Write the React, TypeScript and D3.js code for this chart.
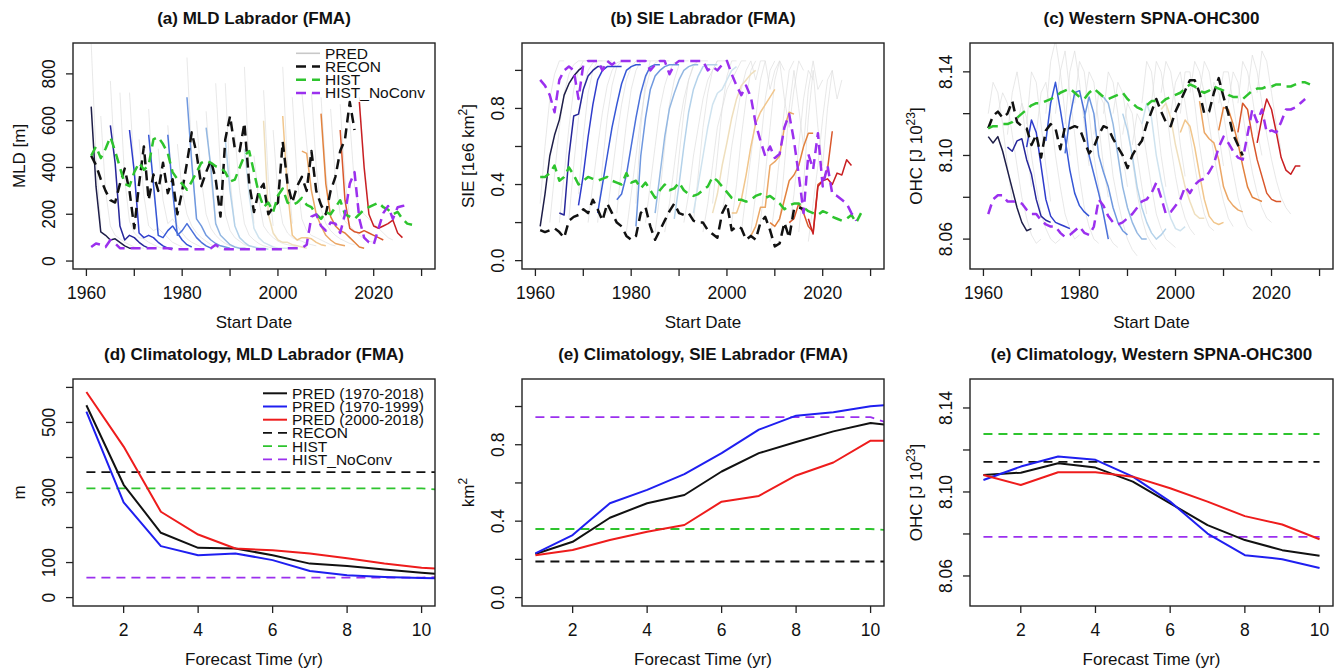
import React, { useRef, useEffect } from 'react';
import * as d3 from 'd3';

const FONT = '"Liberation Sans", Arial, Helvetica, sans-serif';

// ---- forecast start dates ----
const colStarts = [1961, 1965, 1969, 1973, 1977, 1981, 1985, 1989, 1993, 1997, 2001, 2005, 2009, 2013, 2017];
const colColors = ['#1e1e48', '#26269a', '#2f3ccc', '#3556d6', '#4a70da', '#6f98df', '#94b8e2', '#b4d2ea',
  '#cfe3ef', '#efdfbd', '#f1c68c', '#eba766', '#e2823e', '#d9572b', '#c91f22'];
const greyStarts = [1963, 1967, 1971, 1975, 1979, 1983, 1987, 1991, 1995, 1999, 2003, 2007, 2011, 2015];
const obsStart = 1961;

// ---- (a) MLD Labrador ----
const mldCol = [
  [660, 320, 125, 110, 90, 95, 80, 65, 55, 55],
  [580, 420, 150, 90, 110, 100, 80, 65, 55, 55],
  [560, 380, 120, 100, 110, 100, 80, 65, 55, 55],
  [540, 330, 110, 100, 130, 150, 120, 90, 70, 60],
  [540, 300, 110, 130, 160, 130, 100, 80, 65, 55],
  [700, 420, 180, 150, 110, 90, 75, 65, 60, 55],
  [570, 400, 160, 110, 90, 70, 60, 55, 55, 50],
  [520, 300, 150, 100, 80, 65, 60, 55, 55, 50],
  [480, 280, 140, 100, 80, 70, 60, 55, 55, 55],
  [600, 200, 120, 90, 80, 80, 70, 65, 60, 55],
  [620, 300, 110, 90, 100, 100, 95, 80, 70, 65],
  [470, 460, 300, 200, 150, 110, 90, 75, 70, 65],
  [630, 330, 190, 150, 130, 120, 100, 80, 60, 55],
  [560, 260, 140, 125, 120, 130, 120, 110, 100, 90],
  [680, 400, 200, 150, 140, 150, 160, 175, 120, 100],
];
const mldGrey = [
  [620, 300, 150, 110, 95, 80, 70, 60, 55, 55],
  [720, 350, 170, 120, 100, 95, 80, 70, 60, 55],
  [520, 280, 150, 130, 140, 120, 100, 80, 70, 60],
  [480, 260, 160, 180, 150, 120, 95, 80, 70, 60],
  [500, 300, 200, 150, 120, 100, 85, 70, 60, 55],
  [600, 350, 200, 140, 110, 90, 75, 65, 60, 55],
  [760, 400, 200, 130, 100, 85, 70, 65, 60, 55],
  [540, 300, 160, 110, 90, 75, 65, 60, 55, 55],
  [450, 260, 150, 120, 100, 85, 75, 70, 65, 60],
  [560, 280, 160, 120, 100, 90, 85, 75, 70, 65],
  [700, 350, 180, 130, 110, 100, 90, 80, 70, 65],
  [720, 400, 220, 160, 130, 110, 95, 85, 75, 70],
  [650, 350, 200, 170, 150, 130, 110, 95, 85, 80],
  [600, 320, 220, 200, 180, 160, 140, 120, 100, 90],
];
const mldMemb = [
  [930, 450, 150], [770, 400, 150], [720, 380, 140], [650, 300, 130], [580, 300, 150],
  [870, 450, 180], [640, 350, 160], [760, 350, 150], [830, 380, 160], [730, 350, 150],
  [830, 400, 160], [720, 500, 300], [700, 380, 200], [670, 350, 180], [700, 420, 220],
];
const mldRecon = [
  450, 410, 350, 300, 260, 250, 330, 395, 300, 140,
  330, 490, 260, 370, 300, 420, 290, 350, 200, 300,
  420, 550, 460, 320, 380, 430, 350, 190, 520, 620,
  480, 470, 590, 330, 210, 300, 330, 200, 230, 250,
  510, 330, 250, 320, 360, 300, 470, 300, 240, 200,
  300, 360, 470, 520, 680, 560,
];
const mldHist = [
  450, 490, 440, 480, 530, 470, 400, 330, 320, 380,
  420, 390, 410, 520, 530, 500, 460, 380, 350, 330,
  305, 340, 380, 420, 430, 420, 405, 400, 380, 340,
  348, 400, 450, 470, 380, 290, 230, 250, 210, 280,
  310, 250, 240, 250, 270, 240, 230, 200, 180, 210,
  200, 230, 260, 200, 190, 180, 200, 220, 230, 240,
  250, 230, 220, 200, 210, 180, 160, 155,
];
const mldNoConv = [
  60, 75, 70, 60, 90, 75, 55, 55, 55, 55,
  55, 55, 55, 55, 55, 55, 55, 50, 50, 50,
  50, 50, 50, 50, 50, 55, 70, 55, 50, 50,
  50, 50, 50, 50, 50, 50, 50, 50, 50, 50,
  50, 55, 55, 55, 55, 70, 190, 200, 150, 130,
  165, 160, 120, 200, 330, 380, 180, 100, 80, 70,
  140, 205, 235, 180, 230, 235, 240,
];

// ---- (b) SIE Labrador ----
const sieCol = [
  [0.18, 0.35, 0.55, 0.66, 0.74, 0.87, 0.93, 0.97, 1.0, 1.02],
  [0.25, 0.24, 0.55, 0.76, 0.77, 0.9, 0.97, 1.0, 1.02, 1.02],
  [0.29, 0.45, 0.65, 0.82, 0.95, 1.0, 1.02, 1.02, 1.02, 1.02],
  [0.25, 0.4, 0.55, 0.7, 0.82, 0.93, 1.0, 1.02, 1.03, 1.03],
  [0.32, 0.35, 0.45, 0.6, 0.75, 0.88, 0.97, 1.02, 1.03, 1.03],
  [0.18, 0.55, 0.75, 0.9, 0.97, 1.0, 1.02, 1.03, 1.03, 1.03],
  [0.25, 0.45, 0.65, 0.8, 0.88, 0.95, 1.0, 1.02, 1.03, 1.03],
  [0.22, 0.4, 0.6, 0.78, 0.9, 0.97, 1.02, 1.03, 1.03, 1.03],
  [0.25, 0.4, 0.55, 0.7, 0.82, 0.88, 0.9, 0.95, 1.0, 1.02],
  [0.25, 0.35, 0.5, 0.62, 0.75, 0.85, 0.92, 0.95, 0.98, 1.0],
  [0.25, 0.25, 0.32, 0.45, 0.6, 0.72, 0.78, 0.82, 0.86, 0.9],
  [0.13, 0.18, 0.28, 0.28, 0.5, 0.52, 0.55, 0.7, 0.78, 0.77],
  [0.2, 0.18, 0.22, 0.32, 0.42, 0.45, 0.5, 0.6, 0.67, 0.67],
  [0.2, 0.22, 0.3, 0.25, 0.18, 0.15, 0.4, 0.42, 0.48, 0.68],
  [0.22, 0.14, 0.39, 0.42, 0.43, 0.4, 0.46, 0.45, 0.53, 0.5],
];
const sieGrey = [
  [0.2, 0.45, 0.7, 0.88, 0.98, 1.03, 1.05, 1.05, 1.05, 1.05],
  [0.22, 0.5, 0.75, 0.9, 1.0, 1.04, 1.05, 1.05, 1.05, 1.05],
  [0.2, 0.4, 0.6, 0.78, 0.92, 1.0, 1.04, 1.05, 1.05, 1.05],
  [0.25, 0.45, 0.65, 0.82, 0.95, 1.02, 1.05, 1.05, 1.05, 1.05],
  [0.15, 0.35, 0.55, 0.75, 0.9, 1.0, 1.04, 1.05, 1.05, 1.05],
  [0.2, 0.4, 0.6, 0.8, 0.92, 1.0, 1.04, 1.05, 1.05, 1.05],
  [0.15, 0.3, 0.5, 0.7, 0.85, 0.95, 1.02, 1.05, 1.05, 1.05],
  [0.2, 0.35, 0.55, 0.7, 0.85, 0.95, 1.0, 1.05, 1.05, 1.05],
  [0.15, 0.3, 0.5, 0.7, 0.8, 0.9, 0.95, 1.0, 1.05, 1.05],
  [0.25, 0.4, 0.6, 0.75, 0.9, 1.0, 1.05, 0.95, 1.05, 1.05],
  [0.15, 0.35, 0.55, 0.75, 0.95, 1.05, 0.9, 1.0, 1.05, 1.0],
  [0.2, 0.45, 0.7, 0.95, 1.05, 0.85, 0.7, 0.9, 1.05, 1.0],
  [0.2, 0.5, 0.8, 1.0, 0.8, 0.6, 0.9, 1.05, 0.9, 0.95],
  [0.15, 0.4, 0.75, 1.0, 0.7, 0.5, 0.8, 1.0, 0.85, 0.95],
];
const sieMemb = [
  [0.3, 0.6, 0.85, 0.98, 1.05, 1.05], [0.2, 0.45, 0.7, 0.9, 1.0, 1.05], [0.35, 0.65, 0.88, 1.0, 1.05, 1.05],
  [0.2, 0.5, 0.75, 0.92, 1.02, 1.05], [0.25, 0.5, 0.72, 0.9, 1.0, 1.05], [0.3, 0.7, 0.95, 1.05, 1.05, 1.05],
  [0.15, 0.35, 0.6, 0.82, 0.95, 1.03], [0.3, 0.55, 0.78, 0.95, 1.03, 1.05], [0.2, 0.45, 0.7, 0.88, 1.0, 1.05],
  [0.3, 0.55, 0.8, 0.97, 1.05, 1.05], [0.2, 0.4, 0.65, 0.85, 1.0, 1.05], [0.15, 0.35, 0.6, 0.85, 1.0, 1.05],
  [0.1, 0.3, 0.55, 0.8, 1.0, 1.05], [0.15, 0.35, 0.6, 0.85, 1.0, 0.95], [0.1, 0.3, 0.5, 0.75, 0.95, 1.0],
];
const sieRecon = [
  0.16, 0.15, 0.16, 0.17, 0.15, 0.12, 0.21, 0.23, 0.24, 0.27,
  0.25, 0.32, 0.27, 0.21, 0.3, 0.25, 0.2, 0.18, 0.13, 0.11,
  0.13, 0.25, 0.28, 0.18, 0.11, 0.16, 0.21, 0.26, 0.3, 0.25,
  0.24, 0.25, 0.21, 0.2, 0.2, 0.16, 0.14, 0.12, 0.25, 0.3,
  0.16, 0.18, 0.17, 0.11, 0.13, 0.11, 0.2, 0.23, 0.16, 0.075,
  0.09, 0.2, 0.12, 0.27, 0.28, 0.27,
];
const sieHist = [
  0.44, 0.44, 0.46, 0.5, 0.42, 0.44, 0.49, 0.45, 0.4, 0.42,
  0.44, 0.43, 0.42, 0.43, 0.44, 0.42, 0.41, 0.4, 0.46, 0.41,
  0.42, 0.38, 0.41, 0.37, 0.33, 0.37, 0.4, 0.37, 0.38, 0.41,
  0.37, 0.35, 0.34, 0.35, 0.37, 0.39, 0.44, 0.42, 0.39, 0.36,
  0.33, 0.32, 0.32, 0.31, 0.32, 0.34, 0.35, 0.33, 0.34, 0.32,
  0.3, 0.27, 0.29, 0.3, 0.3, 0.28, 0.26, 0.25, 0.24, 0.26,
  0.25, 0.23, 0.22, 0.21, 0.22, 0.24, 0.2, 0.25,
];
const sieNoConv = [
  0.95, 0.92, 0.87, 0.78, 0.95, 1.0, 1.02, 1.0, 0.85, 1.03,
  1.05, 1.05, 1.05, 1.0, 1.05, 1.03, 1.05, 1.05, 1.05, 1.05,
  1.05, 1.05, 1.05, 1.0, 1.03, 1.05, 1.05, 0.98, 1.03, 1.05,
  1.05, 1.05, 1.05, 1.05, 1.05, 1.0, 1.02, 1.0, 1.03, 1.05,
  0.98, 0.92, 0.87, 0.92, 0.86, 0.72, 0.63, 0.55, 0.6, 0.54,
  0.56, 0.7, 0.77, 0.63, 0.45, 0.25, 0.56, 0.48, 0.67, 0.39,
  0.5, 0.35, 0.34, 0.32, 0.3, 0.25, 0.21,
];

// ---- (c) Western SPNA OHC300 ----
const ohcCol = [
  [8.109, 8.106, 8.109, 8.102, 8.093, 8.084, 8.075, 8.068, 8.064, 8.065],
  [8.104, 8.102, 8.107, 8.108, 8.098, 8.091, 8.079, 8.071, 8.069, 8.068],
  [8.104, 8.117, 8.111, 8.095, 8.079, 8.071, 8.068, 8.067, 8.066, 8.065],
  [8.107, 8.125, 8.135, 8.122, 8.108, 8.093, 8.082, 8.076, 8.073, 8.071],
  [8.101, 8.118, 8.13, 8.131, 8.121, 8.1, 8.091, 8.082, 8.072, 8.06],
  [8.118, 8.128, 8.12, 8.1, 8.092, 8.085, 8.075, 8.068, 8.064, 8.062],
  [8.128, 8.125, 8.115, 8.1, 8.085, 8.075, 8.068, 8.063, 8.06, 8.06],
  [8.12, 8.112, 8.1, 8.085, 8.075, 8.068, 8.063, 8.06, 8.062, 8.065],
  [8.115, 8.125, 8.118, 8.1, 8.088, 8.078, 8.07, 8.065, 8.064, 8.066],
  [8.122, 8.125, 8.118, 8.105, 8.095, 8.085, 8.078, 8.072, 8.07, 8.07],
  [8.111, 8.117, 8.114, 8.104, 8.091, 8.079, 8.071, 8.068, 8.067, 8.068],
  [8.126, 8.111, 8.108, 8.106, 8.098, 8.085, 8.079, 8.076, 8.074, 8.073],
  [8.112, 8.123, 8.122, 8.115, 8.106, 8.095, 8.085, 8.08, 8.079, 8.078],
  [8.111, 8.125, 8.122, 8.109, 8.098, 8.09, 8.082, 8.079, 8.078, 8.078],
  [8.106, 8.118, 8.127, 8.122, 8.111, 8.099, 8.093, 8.091, 8.095, 8.095],
];
const ohcGrey = [
  [8.12, 8.13, 8.125, 8.11, 8.095, 8.08, 8.07, 8.062, 8.058, 8.06],
  [8.115, 8.125, 8.118, 8.1, 8.085, 8.072, 8.065, 8.06, 8.058, 8.06],
  [8.11, 8.13, 8.135, 8.12, 8.1, 8.085, 8.072, 8.065, 8.06, 8.062],
  [8.12, 8.14, 8.15, 8.13, 8.11, 8.09, 8.075, 8.066, 8.06, 8.058],
  [8.125, 8.145, 8.14, 8.12, 8.1, 8.085, 8.072, 8.062, 8.058, 8.056],
  [8.11, 8.13, 8.125, 8.11, 8.09, 8.078, 8.068, 8.06, 8.055, 8.052],
  [8.12, 8.135, 8.13, 8.115, 8.098, 8.082, 8.07, 8.062, 8.058, 8.055],
  [8.105, 8.12, 8.115, 8.1, 8.085, 8.072, 8.065, 8.06, 8.058, 8.056],
  [8.125, 8.145, 8.14, 8.125, 8.105, 8.09, 8.078, 8.07, 8.065, 8.062],
  [8.12, 8.135, 8.14, 8.125, 8.11, 8.095, 8.082, 8.072, 8.066, 8.064],
  [8.13, 8.145, 8.14, 8.13, 8.115, 8.1, 8.088, 8.078, 8.07, 8.066],
  [8.12, 8.135, 8.13, 8.12, 8.105, 8.092, 8.08, 8.072, 8.066, 8.064],
  [8.125, 8.14, 8.135, 8.12, 8.105, 8.092, 8.082, 8.075, 8.07, 8.068],
  [8.13, 8.148, 8.14, 8.125, 8.11, 8.098, 8.088, 8.08, 8.075, 8.072],
];
const ohcMemb = [
  [8.12, 8.135, 8.13, 8.115, 8.095, 8.078], [8.11, 8.13, 8.14, 8.125, 8.105, 8.085],
  [8.115, 8.14, 8.135, 8.115, 8.095, 8.078], [8.12, 8.145, 8.155, 8.14, 8.12, 8.1],
  [8.115, 8.14, 8.15, 8.135, 8.115, 8.095], [8.125, 8.14, 8.135, 8.115, 8.095, 8.08],
  [8.12, 8.14, 8.135, 8.12, 8.1, 8.085], [8.11, 8.125, 8.12, 8.1, 8.085, 8.072],
  [8.125, 8.145, 8.14, 8.12, 8.1, 8.085], [8.13, 8.145, 8.14, 8.125, 8.105, 8.09],
  [8.12, 8.14, 8.14, 8.125, 8.105, 8.09], [8.13, 8.145, 8.14, 8.125, 8.11, 8.095],
  [8.125, 8.14, 8.14, 8.125, 8.11, 8.098], [8.125, 8.145, 8.14, 8.128, 8.112, 8.1],
  [8.13, 8.15, 8.145, 8.13, 8.115, 8.102],
];
const ohcRecon = [
  8.113, 8.119, 8.121, 8.118, 8.12, 8.126, 8.116, 8.114, 8.113, 8.105,
  8.11, 8.099, 8.112, 8.115, 8.113, 8.103, 8.114, 8.113, 8.114, 8.113,
  8.107, 8.101, 8.104, 8.11, 8.114, 8.113, 8.108, 8.104, 8.1, 8.094,
  8.1, 8.104, 8.107, 8.115, 8.121, 8.127, 8.121, 8.116, 8.114, 8.121,
  8.126, 8.131, 8.136, 8.136, 8.13, 8.12, 8.121, 8.13, 8.137, 8.128,
  8.12, 8.11, 8.105, 8.1,
];
const ohcHist = [
  8.113, 8.114, 8.114, 8.115, 8.115, 8.116, 8.118, 8.12, 8.122, 8.124,
  8.125, 8.125, 8.126, 8.127, 8.128, 8.13, 8.131, 8.132, 8.13, 8.128,
  8.127, 8.13, 8.132, 8.13, 8.128, 8.127, 8.128, 8.129, 8.13, 8.127,
  8.125, 8.123, 8.122, 8.124, 8.126, 8.126, 8.125, 8.127, 8.128, 8.129,
  8.13, 8.132, 8.134, 8.133, 8.131, 8.13, 8.131, 8.133, 8.132, 8.131,
  8.129, 8.128, 8.128, 8.127, 8.129, 8.131, 8.132, 8.132, 8.133, 8.133,
  8.134, 8.134, 8.133, 8.133, 8.134, 8.135, 8.135, 8.134,
];
const ohcNoConv = [
  8.072, 8.079, 8.081, 8.081, 8.078, 8.078, 8.078, 8.077, 8.074, 8.072,
  8.072, 8.069, 8.067, 8.066, 8.066, 8.063, 8.061, 8.062, 8.064, 8.066,
  8.063, 8.062, 8.066, 8.079, 8.076, 8.071, 8.068, 8.067, 8.068, 8.07,
  8.072, 8.075, 8.078, 8.079, 8.082, 8.087, 8.08, 8.072, 8.073, 8.076,
  8.079, 8.085, 8.082, 8.086, 8.088, 8.089, 8.092, 8.096, 8.104, 8.109,
  8.106, 8.102, 8.099, 8.098, 8.11, 8.122, 8.116, 8.122, 8.111, 8.112,
  8.111, 8.116, 8.122, 8.122, 8.123, 8.125, 8.127,
];

// ---- climatology vs forecast time (yr 1..11) ----
const mldAll = [549, 322, 185, 142, 140, 121, 97, 90, 80, 71, 62];
const mld7099 = [531, 272, 147, 121, 126, 107, 76, 64, 59, 56, 53];
const mld0018 = [587, 431, 245, 180, 140, 135, 126, 112, 97, 85, 80];
const mldReconClim = [358, 358, 358, 358, 358, 358, 358, 358, 358, 358, 358];
const mldHistClim = [312, 312, 312, 312, 312, 312, 312, 312, 312, 312, 304];
const mldNoConvClim = [57, 57, 57, 57, 57, 57, 57, 57, 57, 57, 60];

const sieAll = [0.228, 0.292, 0.418, 0.494, 0.537, 0.66, 0.756, 0.814, 0.87, 0.914, 0.89];
const sie7099 = [0.231, 0.327, 0.494, 0.564, 0.646, 0.756, 0.879, 0.952, 0.97, 1.001, 1.017];
const sie0018 = [0.222, 0.249, 0.301, 0.345, 0.38, 0.502, 0.532, 0.639, 0.707, 0.821, 0.821];
const sieReconClim = [0.189, 0.189, 0.189, 0.189, 0.189, 0.189, 0.189, 0.189, 0.189, 0.189, 0.189];
const sieHistClim = [0.359, 0.359, 0.359, 0.359, 0.359, 0.359, 0.359, 0.359, 0.359, 0.359, 0.345];
const sieNoConvClim = [0.944, 0.944, 0.944, 0.944, 0.944, 0.944, 0.944, 0.944, 0.944, 0.944, 0.88];

const ohcAll = [8.1081, 8.1092, 8.1137, 8.1116, 8.1049, 8.0946, 8.0842, 8.0771, 8.0723, 8.0696];
const ohc7099 = [8.1057, 8.1121, 8.1169, 8.1153, 8.1073, 8.0954, 8.0802, 8.0699, 8.068, 8.0638];
const ohc0018 = [8.1081, 8.1033, 8.1094, 8.1094, 8.1073, 8.1018, 8.0954, 8.0885, 8.0845, 8.0775];
const ohcReconClim = [8.1143, 8.1143, 8.1143, 8.1143, 8.1143, 8.1143, 8.1143, 8.1143, 8.1143, 8.1143];
const ohcHistClim = [8.1276, 8.1276, 8.1276, 8.1276, 8.1276, 8.1276, 8.1276, 8.1276, 8.1276, 8.1276];
const ohcNoConvClim = [8.0786, 8.0786, 8.0786, 8.0786, 8.0786, 8.0786, 8.0786, 8.0786, 8.0786, 8.0786];

const topLegend = ['PRED', 'RECON', 'HIST', 'HIST_NoConv'];
const climLegend = ['PRED (1970-2018)', 'PRED (1970-1999)', 'PRED (2000-2018)', 'RECON', 'HIST', 'HIST_NoConv'];

const C_GREY = '#dcdcdc';
const C_GREEN = '#2ec42e';
const C_PURPLE = '#9b30ee';
const C_BLUE = '#1f1ff0';
const C_RED = '#ee1c1c';

const pts = (start: number, vals: number[]) => vals.map((v, i) => [start + i, v] as [number, number]);

const App = () => {
  const ref = useRef<SVGSVGElement>(null);

  useEffect(() => {
    const svg = d3.select(ref.current);
    svg.selectAll('*').remove();

    const fmt1 = d3.format('.1f');
    const fmt2 = d3.format('.2f');
    const fmt0 = d3.format('d');

    const cols = [{ l: 73, r: 435 }, { l: 522, r: 884 }, { l: 970, r: 1333 }];
    const rows = [{ t: 43, b: 269 }, { t: 379, b: 606 }];

    const panels: any[] = [
      { c: 0, r: 0, title: '(a) MLD Labrador (FMA)', yTitle: ['MLD [m]'], yDom: [-34, 932],
        yTicks: [0, 200, 400, 600, 800], yLab: [0, 200, 400, 600, 800], yFmt: fmt0 },
      { c: 1, r: 0, title: '(b) SIE Labrador (FMA)', yTitle: ['SIE [1e6 km', '2', ']'], yDom: [-0.044, 1.144],
        yTicks: [0, 0.2, 0.4, 0.6, 0.8, 1.0], yLab: [0, 0.4, 0.8], yFmt: fmt1 },
      { c: 2, r: 0, title: '(c) Western SPNA-OHC300', yTitle: ['OHC [J 10', '23', ']'], yDom: [8.0457, 8.1538],
        yTicks: [8.06, 8.08, 8.10, 8.12, 8.14], yLab: [8.06, 8.10, 8.14], yFmt: fmt2 },
      { c: 0, r: 1, title: '(d) Climatology, MLD Labrador (FMA)', yTitle: ['m'], yDom: [-24, 624],
        yTicks: [0, 100, 200, 300, 400, 500, 600], yLab: [0, 100, 300, 500], yFmt: fmt0 },
      { c: 1, r: 1, title: '(e) Climatology, SIE Labrador (FMA)', yTitle: ['km', '2'], yDom: [-0.044, 1.144],
        yTicks: [0, 0.2, 0.4, 0.6, 0.8, 1.0], yLab: [0, 0.4, 0.8], yFmt: fmt1 },
      { c: 2, r: 1, title: '(e) Climatology, Western SPNA-OHC300', yTitle: ['OHC [J 10', '23', ']'], yDom: [8.0457, 8.1538],
        yTicks: [8.06, 8.08, 8.10, 8.12, 8.14], yLab: [8.06, 8.10, 8.14], yFmt: fmt2 },
    ];

    const topData = [
      { col: mldCol, grey: mldGrey, memb: mldMemb, recon: mldRecon, hist: mldHist, noconv: mldNoConv },
      { col: sieCol, grey: sieGrey, memb: sieMemb, recon: sieRecon, hist: sieHist, noconv: sieNoConv },
      { col: ohcCol, grey: ohcGrey, memb: ohcMemb, recon: ohcRecon, hist: ohcHist, noconv: ohcNoConv },
    ];
    const climData = [
      { all: mldAll, a: mld7099, b: mld0018, recon: mldReconClim, hist: mldHistClim, noconv: mldNoConvClim },
      { all: sieAll, a: sie7099, b: sie0018, recon: sieReconClim, hist: sieHistClim, noconv: sieNoConvClim },
      { all: ohcAll, a: ohc7099, b: ohc0018, recon: ohcReconClim, hist: ohcHistClim, noconv: ohcNoConvClim },
    ];

    panels.forEach((p, idx) => {
      const { l, r } = cols[p.c];
      const { t, b } = rows[p.r];
      const top = p.r === 0;
      const x = d3.scaleLinear().domain(top ? [1957.2, 2032.8] : [0.64, 10.36]).range([l, r]);
      const y = d3.scaleLinear().domain(p.yDom).range([b, t]);
      const line = d3.line<[number, number]>().x(d => x(d[0])).y(d => y(d[1]));

      svg.append('clipPath').attr('id', `clip${idx}`)
        .append('rect').attr('x', l).attr('y', t).attr('width', r - l).attr('height', b - t);
      const g = svg.append('g').attr('clip-path', `url(#clip${idx})`);

      const path = (data: [number, number][], color: string, w: number, dash?: string) => {
        const el = g.append('path').attr('d', line(data)).attr('fill', 'none')
          .attr('stroke', color).attr('stroke-width', w).attr('stroke-linejoin', 'round');
        if (dash) el.attr('stroke-dasharray', dash);
        return el;
      };

      if (top) {
        const d = topData[p.c];
        d.grey.forEach((v: number[], i: number) => path(pts(greyStarts[i], v), C_GREY, 0.9).attr('opacity', 0.75));
        d.memb.forEach((v: number[], i: number) => path(pts(colStarts[i], v), C_GREY, 0.9).attr('opacity', 0.75));
        d.col.forEach((v: number[], i: number) => path(pts(colStarts[i], v), colColors[i], 1.5));
        path(pts(obsStart, d.recon), '#111', 2.5, '10,6');
        path(pts(obsStart, d.hist), C_GREEN, 2.5, '10,6');
        path(pts(obsStart, d.noconv), C_PURPLE, 2.5, '10,6');
      } else {
        const d = climData[p.c];
        path(pts(1, d.recon), '#111', 1.8, '9,6');
        path(pts(1, d.hist), C_GREEN, 1.8, '9,6');
        path(pts(1, d.noconv), C_PURPLE, 1.8, '9,6');
        path(pts(1, d.all), '#111', 2);
        path(pts(1, d.a), C_BLUE, 2);
        path(pts(1, d.b), C_RED, 2);
      }

      // frame
      svg.append('rect').attr('x', l).attr('y', t).attr('width', r - l).attr('height', b - t)
        .attr('fill', 'none').attr('stroke', '#222').attr('stroke-width', 1.4);

      const xTicks = top ? [1960, 1970, 1980, 1990, 2000, 2010, 2020, 2030] : [2, 4, 6, 8, 10];
      const xLab = top ? [1960, 1980, 2000, 2020] : [2, 4, 6, 8, 10];
      const ax = svg.append('g').attr('font-family', FONT).attr('fill', '#111');
      xTicks.forEach(v => {
        ax.append('line').attr('x1', x(v)).attr('x2', x(v)).attr('y1', b).attr('y2', b + 7)
          .attr('stroke', '#222').attr('stroke-width', 1.3);
      });
      xLab.forEach(v => {
        ax.append('text').attr('x', x(v)).attr('y', b + 30).attr('text-anchor', 'middle')
          .attr('font-size', 17.5).text(String(v));
      });
      p.yTicks.forEach((v: number) => {
        ax.append('line').attr('x1', l).attr('x2', l - 7).attr('y1', y(v)).attr('y2', y(v))
          .attr('stroke', '#222').attr('stroke-width', 1.3);
      });
      p.yLab.forEach((v: number) => {
        ax.append('text').attr('transform', `translate(${l - 18},${y(v)}) rotate(-90)`)
          .attr('text-anchor', 'middle').attr('font-size', 17.5).text(p.yFmt(v));
      });

      ax.append('text').attr('x', (l + r) / 2).attr('y', t - 19).attr('text-anchor', 'middle')
        .attr('font-size', 17).attr('font-weight', 'bold').text(p.title);
      ax.append('text').attr('x', (l + r) / 2).attr('y', b + 59).attr('text-anchor', 'middle')
        .attr('font-size', 17).text(top ? 'Start Date' : 'Forecast Time (yr)');

      const yt = ax.append('text').attr('transform', `translate(${l - 48},${(t + b) / 2}) rotate(-90)`)
        .attr('text-anchor', 'middle').attr('font-size', 17);
      yt.append('tspan').text(p.yTitle[0]);
      if (p.yTitle.length > 1) {
        yt.append('tspan').attr('font-size', 12).attr('dy', -7).text(p.yTitle[1]);
      }
      if (p.yTitle.length > 2) {
        yt.append('tspan').attr('font-size', 17).attr('dy', 7).text(p.yTitle[2]);
      }
    });

    // legends
    const leg = (x0: number, y0: number, labels: string[], styles: { c: string; w: number; dash?: string }[]) => {
      const lg = svg.append('g').attr('font-family', FONT).attr('font-size', 15.5).attr('fill', '#111');
      labels.forEach((lab, i) => {
        const yy = y0 + i * 13.2;
        const s = styles[i];
        const ln = lg.append('line').attr('x1', x0).attr('x2', x0 + 24).attr('y1', yy).attr('y2', yy)
          .attr('stroke', s.c).attr('stroke-width', s.w);
        if (s.dash) ln.attr('stroke-dasharray', s.dash);
        lg.append('text').attr('x', x0 + 29).attr('y', yy + 5.5).text(lab);
      });
    };
    leg(296, 53.3, topLegend, [
      { c: '#c8c8c8', w: 1.6 }, { c: '#111', w: 2.5, dash: '10,6' },
      { c: C_GREEN, w: 2.5, dash: '10,6' }, { c: C_PURPLE, w: 2.5, dash: '10,6' },
    ]);
    leg(263, 393.3, climLegend, [
      { c: '#111', w: 2 }, { c: C_BLUE, w: 2 }, { c: C_RED, w: 2 },
      { c: '#111', w: 1.8, dash: '9,6' }, { c: C_GREEN, w: 1.8, dash: '9,6' }, { c: C_PURPLE, w: 1.8, dash: '9,6' },
    ]);
  }, []);

  return (
    <svg ref={ref} width={1338} height={671}
      style={{ position: 'absolute', left: 0, top: 0, background: '#fff' }} />
  );
};

export default App;
